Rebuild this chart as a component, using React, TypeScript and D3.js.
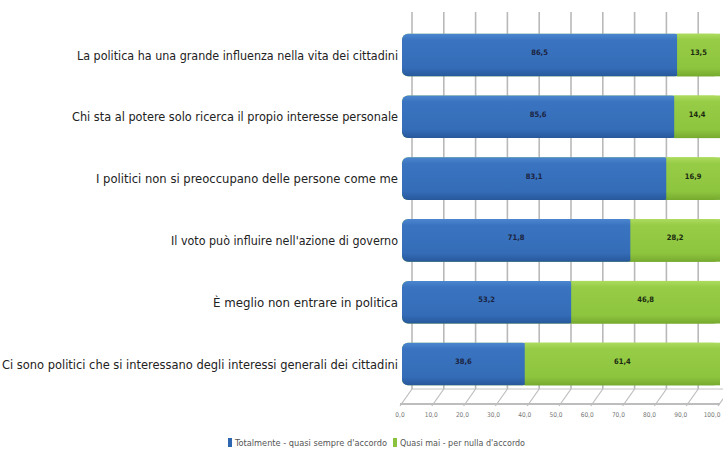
import React from "react";
import * as d3 from "d3";

const categories = [
  "La politica ha una grande influenza nella vita dei cittadini",
  "Chi sta al potere solo ricerca il propio interesse personale",
  "I politici non si preoccupano delle persone come me",
  "Il voto può influire nell'azione di governo",
  "È meglio non entrare in politica",
  "Ci sono politici che si interessano degli interessi generali dei cittadini",
];
const agree = [86.5, 85.6, 83.1, 71.8, 53.2, 38.6];
const disagree = [13.5, 14.4, 16.9, 28.2, 46.8, 61.4];
const ticks = [0, 10, 20, 30, 40, 50, 60, 70, 80, 90, 100];
const seriesNames = ["Totalmente - quasi sempre d'accordo", "Quasi mai - per nulla d'accordo"];
const labelWidths = [321, 326, 302, 227, 185, 396];

const W = 723;
const H = 454;
const fmt = (v: number) => v.toFixed(1).replace(".", ",");

export default function App() {
  const x = d3.scaleLinear().domain([0, 100]).range([402, 720]);
  const xf = d3.scaleLinear().domain([0, 100]).range([400, 712]);
  const y = d3.scaleBand<string>().domain(categories).range([24.1, 394.9]).paddingInner(0.31).paddingOuter(0.155);
  const bw = y.bandwidth();
  const depth = 10;
  const floorTop = 389;
  const floorBottom = 404;
  const labelFont = "'DejaVu Sans Condensed', 'Liberation Sans Narrow', 'DejaVu Sans', sans-serif";

  return (
    <svg width={W} height={H} style={{ position: "absolute", left: 0, top: 0, background: "#fff" }}>
      <defs>
        <linearGradient id="gBlue" x1="0" y1="0" x2="0" y2="1">
          <stop offset="0" stopColor="#4c86cf" />
          <stop offset="0.15" stopColor="#3a74c0" />
          <stop offset="0.8" stopColor="#346cb7" />
          <stop offset="1" stopColor="#27589b" />
        </linearGradient>
        <linearGradient id="gGreen" x1="0" y1="0" x2="0" y2="1">
          <stop offset="0" stopColor="#addb5e" />
          <stop offset="0.15" stopColor="#96cc46" />
          <stop offset="0.8" stopColor="#8ec53f" />
          <stop offset="1" stopColor="#76aa2f" />
        </linearGradient>
      </defs>

      {/* back grid lines */}
      {ticks.map((t) => (
        <line key={"g" + t} x1={x(t) + depth} x2={x(t) + depth} y1={12} y2={floorTop}
          stroke="#b9b9b9" strokeWidth={1.6} />
      ))}

      {/* floor */}
      <line x1={x(0) + depth} x2={x(100) + depth} y1={floorTop} y2={floorTop} stroke="#c4c4c4" strokeWidth={1} />
      <line x1={x(0) - 2} x2={x(100)} y1={floorBottom} y2={floorBottom} stroke="#bdbdbd" strokeWidth={2} />
      {ticks.map((t) => (
        <line key={"f" + t} x1={x(t) - 2} x2={x(t) + depth} y1={floorBottom + 2} y2={floorTop}
          stroke="#bdbdbd" strokeWidth={1.2} />
      ))}
      {ticks.map((t) => (
        <text key={"t" + t} x={xf(t)} y={415} fontSize={6.5} fill="#777" textAnchor="middle"
          dominantBaseline="middle" fontFamily={labelFont}>{fmt(t)}</text>
      ))}

      {/* bars */}
      {categories.map((c, i) => {
        const y0 = y(c)!;
        const xb = x(agree[i]);
        return (
          <g key={c}>
            <rect x={x(0)} y={y0} width={x(100) - x(0)} height={bw} rx={6} fill="url(#gGreen)" />
            <rect x={x(0)} y={y0} width={xb - x(0) + 4} height={bw} rx={6} fill="url(#gBlue)" />
            <rect x={xb} y={y0} width={x(100) - xb} height={bw} fill="url(#gGreen)" />
            <text x={(x(0) + xb) / 2} y={y0 + bw / 2 - 2} fontSize={7.5} fontWeight="bold" fill="#1b2340"
              textAnchor="middle" dominantBaseline="middle" fontFamily={labelFont}>{fmt(agree[i])}</text>
            <text x={(xb + x(100)) / 2} y={y0 + bw / 2 - 2} fontSize={7.5} fontWeight="bold" fill="#1b2a10"
              textAnchor="middle" dominantBaseline="middle" fontFamily={labelFont}>{fmt(disagree[i])}</text>
            <text x={398} y={y0 + bw / 2 + 1} fontSize={12.5} fill="#222" textAnchor="end"
              dominantBaseline="middle" fontFamily={labelFont}
              textLength={labelWidths[i]} lengthAdjust="spacingAndGlyphs">{c}</text>
          </g>
        );
      })}

      {/* legend */}
      <rect x={228} y={438} width={4} height={9} fill="#2f66b0" />
      <text x={235} y={443} fontSize={8} fill="#555" dominantBaseline="middle" fontFamily={labelFont}
        textLength={152} lengthAdjust="spacingAndGlyphs">{seriesNames[0]}</text>
      <rect x={393} y={438} width={4} height={9} fill="#8cc33e" />
      <text x={400} y={443} fontSize={8} fill="#555" dominantBaseline="middle" fontFamily={labelFont}
        textLength={125} lengthAdjust="spacingAndGlyphs">{seriesNames[1]}</text>
    </svg>
  );
}
